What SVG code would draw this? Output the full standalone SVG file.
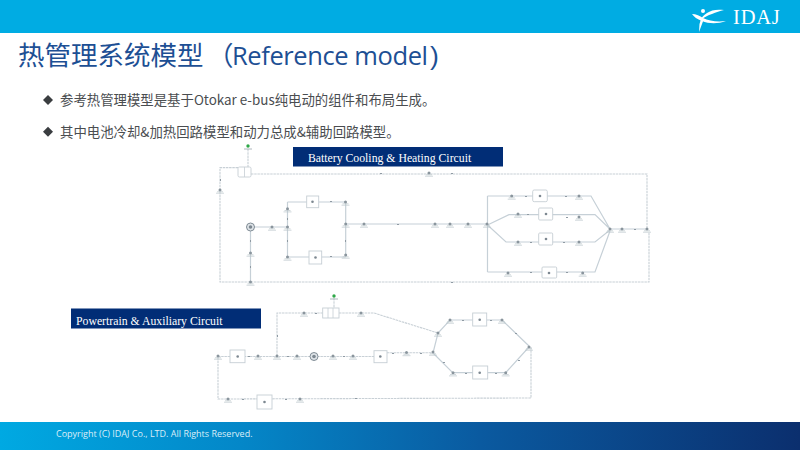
<svg xmlns="http://www.w3.org/2000/svg" width="800" height="450" viewBox="0 0 800 450">
<defs>
<linearGradient id="foot" x1="0" x2="1" y1="0" y2="0"><stop offset="0" stop-color="#00a9e2"/><stop offset="0.3" stop-color="#0487c8"/><stop offset="0.6" stop-color="#0a5aa0"/><stop offset="1" stop-color="#0b2f6e"/></linearGradient>
<filter id="soft" x="-5%" y="-5%" width="110%" height="110%"><feGaussianBlur stdDeviation="0.4"/></filter>
<g id="n"><circle cx="0" cy="0" r="1.500" fill="#8a959d"/><path d="M-3 1.800H3M-4 3.200H4" stroke="#bcc5cb" stroke-width="0.700" fill="none"/></g>
<g id="g"><circle cx="0" cy="-1" r="1.700" fill="#2ea84a"/><path d="M-4 2H4" stroke="#9aa5ac" stroke-width="0.800"/></g>
</defs>
<style>
text{font-family:"Noto Sans CJK SC","Liberation Sans",sans-serif}
.ti{font-size:26.5px;fill:#1d4f94}
.tl{font-family:"Open Sans","Noto Sans","Liberation Sans",sans-serif;font-size:25.500px;fill:#1d4f94}
.bu{font-size:13.400px;fill:#4a4d50}
.ban{font-family:"Liberation Serif",serif;font-size:11.750px;fill:#fff}
.w{fill:none;stroke:#c6d0d7;stroke-width:1.200}
.d{fill:none;stroke:#c8d0d6;stroke-width:1.100;stroke-dasharray:2.500 0.700}
.b{fill:#fff;stroke:#c6ced4;stroke-width:0.900}
.c{fill:#7d8891}
.t{fill:#8f9aa3}
</style>
<rect width="800" height="450" fill="#fff"/>
<rect width="800" height="33" fill="#00ace3"/>
<g id="logo" fill="#fff">
<path d="M724 10C717 9 711 10 707 13 704 15 702 17 701 19 704 18 708 15 712 14 716 12 720 11 724 10Z"/>
<path d="M692 14C696 14 700 16 703 18 709 21 717 22 726 21 718 24 709 24 702 21 697 19 694 17 692 14Z"/>
<path d="M701 19L703.500 20 699 32 699.500 24Z"/>
<circle cx="703" cy="11" r="2"/>
<text x="733" y="24" style="font-family:'Liberation Serif',serif;font-size:20.500px;letter-spacing:0.800px">IDAJ</text>
</g>
<g id="heading">
<text class="ti" x="18" y="65">热管理系统模型</text>
<text class="ti" x="207" y="65">（</text>
<text class="tl" x="232" y="65" textLength="196">Reference model</text>
<text class="ti" x="430" y="65" style="font-family:'Liberation Sans',sans-serif">)</text>
</g>
<path d="M48 95l5 5-5 5-5-5z" fill="#3a3d40"/>
<text class="bu" x="60" y="105">参考热管理模型是基于Otokar e-bus纯电动的组件和布局生成。</text>
<path d="M48 126.700l5 5-5 5-5-5z" fill="#3a3d40"/>
<text class="bu" x="60" y="137">其中电池冷却&amp;加热回路模型和动力总成&amp;辅助回路模型。</text>
<g id="banner1"><rect x="293" y="147" width="210" height="19.500" fill="#012d76"/><text class="ban" x="308" y="162">Battery Cooling &amp; Heating Circuit</text></g>
<g id="banner2"><rect x="71" y="308.500" width="190" height="20" fill="#012d76"/><text class="ban" x="76" y="325">Powertrain &amp; Auxiliary Circuit</text></g>
<g id="connectors" filter="url(#soft)">
<path class="d" d="M248 149V167M238 167.600H220V282H649V232M251 174H647V229M334 298V308"/>
<path class="w" d="M250.500 227V282M250.500 227H287.500M287.500 202V257M287.500 202H345.700V257M287.500 257H345.700M345.700 224H487.500"/>
<path class="w" d="M487.500 196V272M487.500 196H591L610 229M487.500 225L509 214.600H595L610 229M487.500 225L506 242H595L610 230M487.500 272H595L610 231M610 229H647"/>
<path class="d" d="M218 356.500H374M387 352.700H433M277 356V313H323M339 313H374L438 333M531 347V398L218 399V356.500"/>
<path class="w" d="M433 353L438 333L450 320H502L529 346M433 353L452.700 372.700H505.700L529 347"/>
<path class="t" d="M220 179h1v2h-1zM250 240h1v2h-1zM250 266h1v2h-1zM287 218h1v2h-1zM287 240h1v2h-1zM330 201h2v1h-2zM330 256h2v1h-2zM345 240h1v2h-1zM397 224h2v1h-2zM380 173h2v1h-2zM525 196h2v1h-2zM565 196h2v1h-2zM527 214h2v1h-2zM566 217h2v1h-2zM530 242h2v1h-2zM563 242h2v1h-2zM530 272h2v1h-2zM566 272h2v1h-2zM634 229h2v1h-2zM451 173h2v1h-2zM451 282h2v1h-2zM248 356h2v1h-2zM287 356h2v1h-2zM343 356h2v1h-2zM277 335h1v2h-1zM315 313h2v1h-2zM392 353h2v1h-2zM420 353h2v1h-2zM462 320h2v1h-2zM490 320h2v1h-2zM515 333h2v1h-2zM443 362h2v1h-2zM465 373h2v1h-2zM495 373h2v1h-2zM518 360h2v1h-2zM242 399h2v1h-2zM285 399h2v1h-2zM355 398h2v1h-2z"/>
</g>
<g filter="url(#soft)">
<g id="nodes1">
<g id="s1"><use href="#g" x="248" y="147"/></g>
<g id="b1"><rect class="b" x="238" y="167" width="13" height="10" rx="1.500"/><path d="M244.500 167V177" stroke="#c6ced4" stroke-width="0.800"/></g>
<g id="b2"><rect class="b" x="306.700" y="196" width="12" height="11.700"/><circle class="c" cx="312.500" cy="201.800" r="1.300"/></g>
<g id="b3"><rect class="b" x="309" y="251" width="12.700" height="13"/><circle class="c" cx="315.500" cy="257.500" r="1.300"/></g>
<g id="b4"><rect class="b" x="532.700" y="190" width="14.600" height="11.700" rx="1.500"/><circle class="c" cx="540" cy="196" r="1.300"/></g>
<g id="b5"><rect class="b" x="538.700" y="208" width="14" height="12" rx="1"/><circle class="c" cx="546" cy="214" r="1.300"/></g>
<g id="b6"><rect class="b" x="538.700" y="233" width="14" height="12" rx="1"/><circle class="c" cx="546" cy="239" r="1.300"/></g>
<g id="b7"><rect class="b" x="542" y="267" width="14.700" height="11" rx="1"/><circle class="c" cx="549" cy="273" r="1.300"/></g>
<g id="p1"><circle cx="250.500" cy="227" r="4" fill="#dfe4e8" stroke="#7f8b94" stroke-width="1"/><circle class="c" cx="250.500" cy="227" r="1.800"/></g>
<g id="n1a"><use href="#n" x="220" y="190"/><use href="#n" x="250.500" y="253"/><use href="#n" x="250.500" y="282"/><use href="#n" x="272" y="227"/><use href="#n" x="287.500" y="208.700"/><use href="#n" x="287.500" y="227"/><use href="#n" x="287.500" y="257"/><use href="#n" x="345.500" y="202"/><use href="#n" x="345.700" y="224"/><use href="#n" x="345.700" y="255"/><use href="#n" x="364" y="224"/><use href="#n" x="429" y="173"/><use href="#n" x="435" y="224"/><use href="#n" x="450" y="224"/><use href="#n" x="468" y="224"/><use href="#n" x="487" y="224"/></g>
<g id="n1b"><use href="#n" x="511.700" y="196"/><use href="#n" x="579" y="196"/><use href="#n" x="518" y="214"/><use href="#n" x="579" y="217"/><use href="#n" x="518" y="242"/><use href="#n" x="579" y="242"/><use href="#n" x="508" y="273"/><use href="#n" x="582.700" y="273"/><use href="#n" x="610" y="229"/><use href="#n" x="622" y="229"/><use href="#n" x="647" y="229"/></g>
</g>
<g id="nodes2">
<g id="s2"><use href="#g" x="334" y="297"/></g>
<g id="c1"><rect class="b" x="322.700" y="308" width="16.300" height="10"/><path d="M328 308V318M333 308V318" stroke="#c6ced4" stroke-width="0.800"/></g>
<g id="c2"><rect class="b" x="230" y="350" width="15" height="12.700"/><circle class="c" cx="237.700" cy="356.500" r="1.300"/></g>
<g id="c3"><rect class="b" x="374" y="350.700" width="13" height="12"/><circle class="c" cx="380.300" cy="356.500" r="1.300"/></g>
<g id="c4"><rect class="b" x="472.700" y="313" width="14" height="13"/><circle class="c" cx="479.700" cy="319.700" r="1.300"/></g>
<g id="c5"><rect class="b" x="472.700" y="366" width="15" height="13"/><circle class="c" cx="479.700" cy="372.700" r="1.300"/></g>
<g id="c6"><rect class="b" x="257" y="395" width="15" height="14"/><circle class="c" cx="264.500" cy="402" r="1.300"/></g>
<g id="p2"><circle cx="314" cy="356.500" r="4" fill="#dfe4e8" stroke="#7f8b94" stroke-width="1"/><circle class="c" cx="314" cy="356.500" r="1.800"/></g>
<g id="n2"><use href="#n" x="218" y="356"/><use href="#n" x="258" y="356"/><use href="#n" x="277" y="356"/><use href="#n" x="297" y="356"/><use href="#n" x="304" y="313"/><use href="#n" x="333" y="356"/><use href="#n" x="353" y="356"/><use href="#n" x="361" y="313"/><use href="#n" x="406.500" y="352.500"/><use href="#n" x="433" y="352"/><use href="#n" x="438" y="333"/><use href="#n" x="450" y="320"/><use href="#n" x="502" y="320"/><use href="#n" x="529" y="347"/><use href="#n" x="453" y="372.700"/><use href="#n" x="505.700" y="372.700"/><use href="#n" x="228" y="399"/><use href="#n" x="300" y="399"/></g>
</g>
</g>
<rect y="422" width="800" height="28" fill="url(#foot)"/>
<text x="56" y="437" style="font-family:'Open Sans','Liberation Sans',sans-serif;font-size:9px;fill:#dbeef8">Copyright (C)  IDAJ Co., LTD. All Rights Reserved.</text>
</svg>
